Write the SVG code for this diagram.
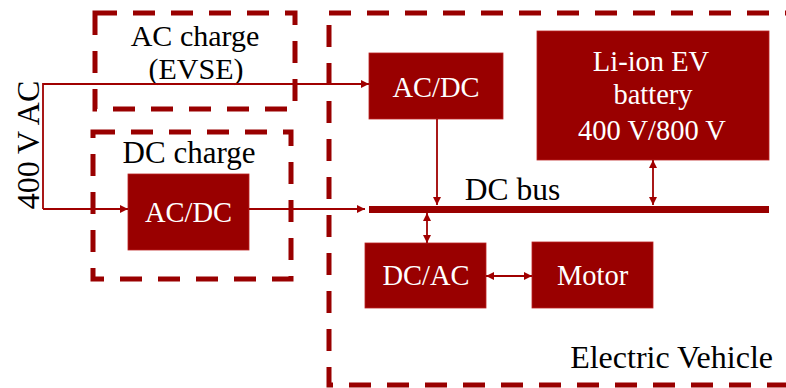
<svg xmlns="http://www.w3.org/2000/svg" width="786" height="388" viewBox="0 0 786 388">
<style>
.box{fill:#990000;stroke:#b22;stroke-width:0.8}
.dash{fill:none;stroke:#990000;stroke-width:5;stroke-dasharray:22 16}
.w{fill:#fff;text-anchor:middle}
.k{fill:#000}
.c{fill:none;stroke:#a00000;stroke-width:1.8}
</style>
<defs>
<marker id="ah" viewBox="0 0 10 10" refX="10" refY="5" markerWidth="10" markerHeight="8" markerUnits="userSpaceOnUse" orient="auto-start-reverse">
<path d="M0,0 L10,5 L0,10 z" fill="#a00000"/>
</marker>
</defs>
<rect width="786" height="388" fill="#fff"/>
<g font-family="'Liberation Serif', 'DejaVu Serif', serif">

<g id="ac-charge">
<rect class="dash" x="95" y="13" width="200" height="96"/>
<text class="k" x="195" y="46" font-size="30" text-anchor="middle">AC charge</text>
<text class="k" x="196" y="79" font-size="30" text-anchor="middle">(EVSE)</text>
</g>

<g id="dc-charge">
<rect class="dash" x="93" y="132" width="198" height="147"/>
<text class="k" x="189" y="163" font-size="31" text-anchor="middle">DC charge</text>
</g>

<g id="ev">
<rect class="dash" x="329" y="13" width="500" height="372"/>
<text class="k" x="773" y="368" font-size="32" text-anchor="end">Electric Vehicle</text>
</g>

<g id="ac-source">
<text class="k" x="0" y="0" font-size="32" text-anchor="middle" transform="translate(38.5,145) rotate(-90)">400 V AC</text>
</g>

<g id="acdc-evse">
<rect class="box" x="369" y="53" width="134" height="66"/>
<text class="w" x="436" y="97" font-size="28.5">AC/DC</text>
</g>

<g id="acdc-dc">
<rect class="box" x="128" y="174" width="121" height="76"/>
<text class="w" x="188.5" y="222" font-size="28.5">AC/DC</text>
</g>

<g id="battery">
<rect class="box" x="537" y="31" width="232" height="129"/>
<text class="w" x="651" y="71" font-size="28.5">Li-ion EV</text>
<text class="w" x="653" y="104" font-size="28.5">battery</text>
<text class="w" x="652" y="140" font-size="28.5">400 V/800 V</text>
</g>

<g id="dcbus">
<rect x="369" y="206" width="400" height="7" fill="#990000"/>
<text class="k" x="512.5" y="200" font-size="31.5" text-anchor="middle">DC bus</text>
</g>

<g id="dcac">
<rect class="box" x="365" y="243" width="121" height="65"/>
<text class="w" x="426" y="285" font-size="28.5">DC/AC</text>
</g>

<g id="motor">
<rect class="box" x="532" y="242" width="121" height="66"/>
<text class="w" x="592.5" y="285" font-size="28.5">Motor</text>
</g>
</g>

<g id="connectors">
<path class="c" d="M43,209 L43,84 L369,84" marker-end="url(#ah)"/>
<path class="c" d="M43,209 L128,209" marker-end="url(#ah)"/>
<path class="c" d="M249,209 L365,209" marker-end="url(#ah)"/>
<path class="c" d="M437,119 L437,205" marker-end="url(#ah)"/>
<path class="c" d="M653,160 L653,205" marker-start="url(#ah)" marker-end="url(#ah)"/>
<path class="c" d="M427,213 L427,243" marker-start="url(#ah)" marker-end="url(#ah)"/>
<path class="c" d="M486,276 L532,276" marker-start="url(#ah)" marker-end="url(#ah)"/>
</g>
</svg>
